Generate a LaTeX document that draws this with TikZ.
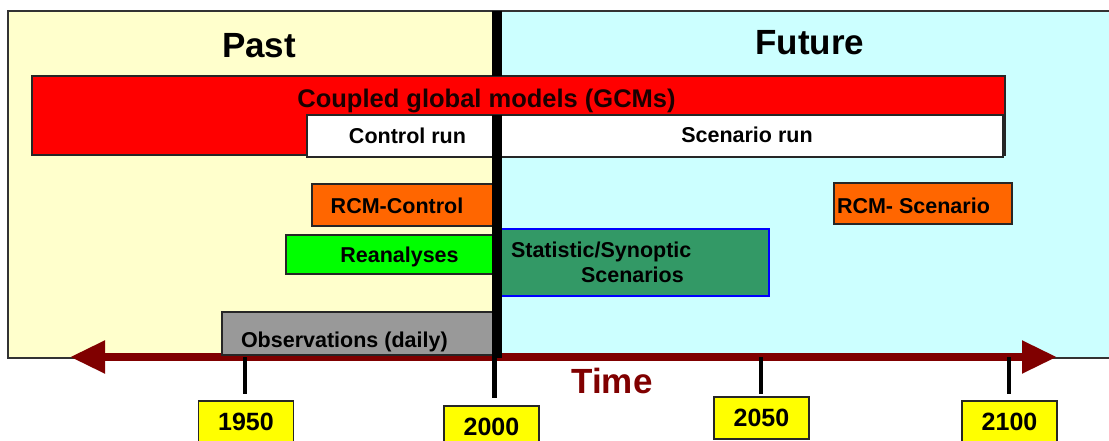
\documentclass[tikz,border=0pt]{standalone}
\usepackage{fontspec}
\setmainfont{Liberation Sans}
\usetikzlibrary{arrows.meta}

\definecolor{pastbg}{HTML}{FFFFCC}
\definecolor{futurebg}{HTML}{CCFFFF}
\definecolor{gcmred}{HTML}{FF0000}
\definecolor{rcmorange}{HTML}{FF6600}
\definecolor{reangreen}{HTML}{00FF00}
\definecolor{statgreen}{HTML}{339966}
\definecolor{obsgray}{HTML}{999999}
\definecolor{yearyellow}{HTML}{FFFF00}
\definecolor{maroon}{HTML}{800000}
\definecolor{darktext}{HTML}{1A0000}

\tikzset{
  panel/.style={draw=black!80, line width=1.2pt, anchor=north west, inner sep=0pt, outer sep=0pt},
  bar/.style={draw=black!85, line width=1.5pt, anchor=north west, inner sep=0pt, outer sep=0pt},
  lbl/.style={inner sep=0pt, outer sep=0pt, font=\bfseries\fontsize{21.5}{24}\selectfont},
  title/.style={inner sep=0pt, anchor=base, font=\bfseries\fontsize{35}{40}\selectfont},
  yearbox/.style={draw=black!85, line width=1.5pt, fill=yearyellow, inner sep=0pt,
    minimum width=95pt, minimum height=42pt, font=\bfseries\fontsize{25}{28}\selectfont},
  tick/.style={draw=black, line width=4.5pt},
  divider/.style={draw=black, line width=9.5pt},
  axis/.style={draw=maroon, line width=8pt,
    {Triangle[length=35pt,width=31pt]}-{Triangle[length=35pt,width=31pt]}},
}

\begin{document}
\begin{tikzpicture}[x=1pt,y=-1pt]
\useasboundingbox (0,0) rectangle (1109,441);

% background panels
\node[panel, fill=pastbg, minimum width=489pt, minimum height=347pt] (past) at (8,11) {};
\node[panel, fill=futurebg, minimum width=620pt, minimum height=347pt] (future) at (497,11) {};

% time axis
\coordinate (axL) at (70,357);
\coordinate (axR) at (1057,357);
\draw[axis] (axL) -- (axR);

% model and data bars
\node[bar, fill=gcmred, minimum width=973pt, minimum height=79pt] (gcm) at (32,76) {};
\node[bar, fill=white, minimum width=190pt, minimum height=42pt] (ctrl) at (307,115) {};
\node[bar, fill=white, minimum width=504pt, minimum height=42pt] (scen) at (499,115) {};
\node[bar, fill=rcmorange, minimum width=185pt, minimum height=42pt] (rcmc) at (312,184) {};
\node[bar, fill=reangreen, minimum width=211pt, minimum height=39pt] (rean) at (286,235) {};
\node[bar, draw=blue, fill=statgreen, minimum width=268pt, minimum height=67pt] (stat) at (501,229) {};
\node[bar, fill=rcmorange, minimum width=178pt, minimum height=41pt] (rcms) at (834,183) {};
\node[bar, fill=obsgray, minimum width=275pt, minimum height=43pt] (obs) at (222,312) {};

% present-day divider (hidden behind the GCM bar)
\coordinate (divT) at (497,11);
\coordinate (divU) at (497,76);
\coordinate (divL) at (497,115);
\coordinate (divB) at (497,358);
\draw[divider] (divT) -- (divU);
\draw[divider] (divL) -- (divB);

% year ticks
\coordinate (t1950) at (245,357);
\coordinate (t2000) at (494,357);
\coordinate (t2050) at (761,357);
\coordinate (t2100) at (1009,357);
\coordinate (b1950) at (245,394);
\coordinate (b2000) at (494,398);
\coordinate (b2050) at (761,394);
\coordinate (b2100) at (1009,394);
\draw[tick] (t1950) -- (b1950);
\draw[tick, line width=5pt] (t2000) -- (b2000);
\draw[tick] (t2050) -- (b2050);
\draw[tick, line width=4pt] (t2100) -- (b2100);

% year labels
\node[yearbox] (y1950) at (246,422) {1950};
\node[yearbox] (y2000) at (491.5,427) {2000};
\node[yearbox] (y2050) at (761.5,418) {2050};
\node[yearbox] (y2100) at (1009.5,422) {2100};

% titles
\node[title] (pastlbl) at (259,58) {Past};
\node[title] (futlbl) at (810,55) {Future};
\node[title, text=maroon] (timelbl) at (612,393) {Time};

% bar labels
\node[lbl, anchor=base, text=darktext, font=\bfseries\fontsize{25.5}{28}\selectfont] (gcmlbl) at (486.5,108) {Coupled global models (GCMs)};
\node[lbl, anchor=base] (ctrllbl) at (407.5,144) {Control run};
\node[lbl, anchor=base] (scenlbl) at (747,143) {Scenario run};
\node[lbl, anchor=base] (rcmclbl) at (397,213) {RCM-Control};
\node[lbl, anchor=base] (reanlbl) at (399.5,262) {Reanalyses};
\node[lbl, anchor=base west] (statlbl) at (511,257) {Statistic/Synoptic};
\node[lbl, anchor=base west] (statlblb) at (581,282) {Scenarios};
\node[lbl, anchor=base west] (rcmslbl) at (837,214) {RCM- Scenario};
\node[lbl, anchor=base west] (obslbl) at (241,347) {Observations (daily)};
\end{tikzpicture}
\end{document}
